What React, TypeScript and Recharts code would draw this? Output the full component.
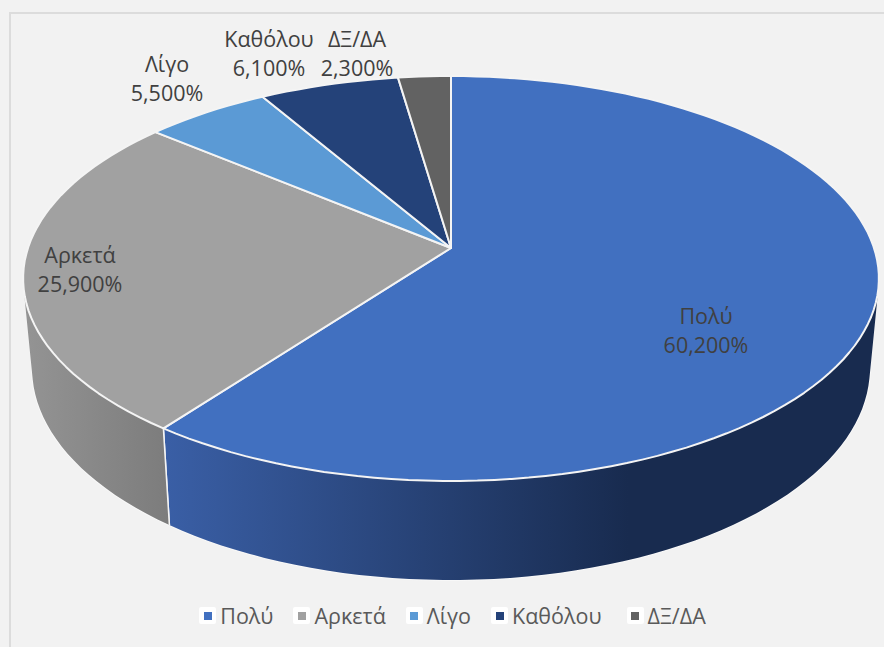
import { Legend, Pie, PieChart } from 'recharts';

const CATEGORIES = ['Πολύ', 'Αρκετά', 'Λίγο', 'Καθόλου', 'ΔΞ/ΔΑ'];
const VALUES = [60.2, 25.9, 5.5, 6.1, 2.3];
const TOP_COLORS = ['#4170c0', '#a1a1a1', '#5b9ad5', '#244279', '#626262'];
const WALL_COLORS = [
  ['#3a5fa6', '#182b4f'],
  ['#949494', '#7c7c7c'],
  ['#4a7cab', '#3a6590'],
  ['#1c3560', '#162a4c'],
  ['#4e4e4e', '#444444'],
];
const LABEL_POSITIONS = [
  [706, 339],
  [80, 278],
  [167, 87],
  [269, 62],
  [357, 62],
];

const FONT = '"Open Sans", "Noto Sans", sans-serif';
const RADIAN = Math.PI / 180;

// the chart is tilted with a bit of perspective, so the far edge is squeezed
const PERSPECTIVE = 0.1506;
const TILT = 0.4678;
const WALL_SCALE = 0.979;
const WALL_DROP = 88.5;
const WALL_TILT = 0.489;

const chartData = CATEGORIES.map((name, i) => ({ name, value: VALUES[i], fill: TOP_COLORS[i] }));

const project = (cx: number, cy: number, r: number, angle: number, scale = 1, drop = 0, tilt = TILT) => {
  const u = Math.cos(angle * RADIAN);
  const v = Math.sin(angle * RADIAN);
  const w = 1 + PERSPECTIVE * v;
  return [cx + (scale * r * u) / w, cy + drop - (r * tilt * v) / w];
};

const arcPoints = (props: any, scale = 1, drop = 0, tilt = TILT) => {
  const { cx, cy, outerRadius, startAngle, endAngle } = props;
  const steps = Math.max(4, Math.ceil(Math.abs(endAngle - startAngle) / 2));
  const points: number[][] = [];
  for (let i = 0; i <= steps; i += 1) {
    const angle = startAngle + ((endAngle - startAngle) * i) / steps;
    points.push(project(cx, cy, outerRadius, angle, scale, drop, tilt));
  }
  return points;
};

const toLine = (points: number[][]) =>
  points.map((p, i) => `${i === 0 ? 'M' : 'L'}${p[0].toFixed(1)},${p[1].toFixed(1)}`).join(' ');

// shoelace sign, all strips need the same winding or the nonzero fill cancels at the fold
const isClockwise = (points: number[][]) => {
  let area = 0;
  points.forEach((p, i) => {
    const next = points[(i + 1) % points.length];
    area += p[0] * next[1] - next[0] * p[1];
  });
  return area > 0;
};

const TopSlice = (props: any) => {
  const apex = [props.cx, props.cy];
  return (
    <path
      d={`${toLine([apex, ...arcPoints(props)])} Z`}
      fill={props.fill}
      stroke="#f4f4f4"
      strokeWidth={2}
      strokeLinejoin="round"
    />
  );
};

const WallSlice = (props: any) => {
  const top = arcPoints(props);
  const bottom = arcPoints(props, WALL_SCALE, WALL_DROP, WALL_TILT);
  const index = CATEGORIES.indexOf(props.name);
  const [from, to] = WALL_COLORS[index];
  const id = `wall-${index}`;
  const xs = [...top, ...bottom].map((p) => p[0]);
  const strips = top.slice(1).map((p, i) => {
    const quad = [top[i], p, bottom[i + 1], bottom[i]];
    return `${toLine(isClockwise(quad) ? quad : quad.reverse())} Z`;
  });
  const last = top.length - 1;
  return (
    <g>
      <defs>
        <linearGradient id={id} gradientUnits="userSpaceOnUse" x1={Math.min(...xs)} y1={0} x2={Math.max(...xs)} y2={0}>
          <stop offset="0%" stopColor={from} />
          <stop offset={index === 0 ? '65%' : '100%'} stopColor={to} />
        </linearGradient>
      </defs>
      <path d={toLine(bottom)} fill="none" stroke="#f8f8f8" strokeWidth={2} />
      <path d={strips.join(' ')} fill={`url(#${id})`} />
      <path
        d={`${toLine([top[0], bottom[0]])} ${toLine([top[last], bottom[last]])}`}
        fill="none"
        stroke="#f4f4f4"
        strokeWidth={1.5}
      />
    </g>
  );
};

const renderLabel = (props: any) => {
  const [x, y] = LABEL_POSITIONS[props.index];
  return (
    <text x={x} y={y} textAnchor="middle" fontFamily={FONT} fontSize={21.5} fill="#404040">
      <tspan x={x} dy={-15}>{CATEGORIES[props.index]}</tspan>
      <tspan x={x} dy={29}>{`${VALUES[props.index].toFixed(3).replace('.', ',')}%`}</tspan>
    </text>
  );
};

const renderLegend = (props: any) => {
  const payload = props.payload ?? [];
  return (
    <div style={{ display: 'flex', justifyContent: 'center', paddingLeft: 21, fontFamily: FONT, fontSize: 21.5, color: '#595959', whiteSpace: 'nowrap' }}>
      {CATEGORIES.map((name, i) => {
        const entry = payload.find((item: any) => item.value === name);
        return (
          <div key={name} style={{ display: 'flex', alignItems: 'center', margin: '0 10px', marginLeft: i === CATEGORIES.length - 1 ? 15 : 10 }}>
            <span style={{ width: 17, height: 17, background: '#fff', borderRadius: 2, marginRight: 4, display: 'flex', alignItems: 'center', justifyContent: 'center' }}>
              <span style={{ width: 8, height: 8, background: entry?.color, display: 'block' }} />
            </span>
            {name}
          </div>
        );
      })}
    </div>
  );
};

export default function App() {
  return (
    <div style={{ position: 'absolute', left: 0, top: 0, width: 884, height: 647, background: '#f2f2f2', overflow: 'hidden' }}>
      <div style={{ position: 'absolute', left: 9, top: 12, width: 900, height: 700, border: '2px solid #dcdcdc', boxSizing: 'border-box' }} />
      <div style={{ position: 'absolute', left: 0, top: 0 }}>
        <PieChart width={884} height={647} margin={{ top: 0, right: 0, bottom: 0, left: 0 }}>
          <Pie
            data={chartData}
            dataKey="value"
            nameKey="name"
            cx={451}
            cy={248}
            outerRadius={423}
            startAngle={90}
            endAngle={-270}
            legendType="none"
            shape={WallSlice}
            activeShape={WallSlice}
            isAnimationActive={false}
          />
          <Pie
            data={chartData}
            dataKey="value"
            nameKey="name"
            cx={451}
            cy={248}
            outerRadius={423}
            startAngle={90}
            endAngle={-270}
            shape={TopSlice}
            activeShape={TopSlice}
            label={renderLabel}
            labelLine={false}
            isAnimationActive={false}
          />
          <Legend verticalAlign="bottom" content={renderLegend} wrapperStyle={{ bottom: 17, left: 0, width: 884 }} />
        </PieChart>
      </div>
    </div>
  );
}
